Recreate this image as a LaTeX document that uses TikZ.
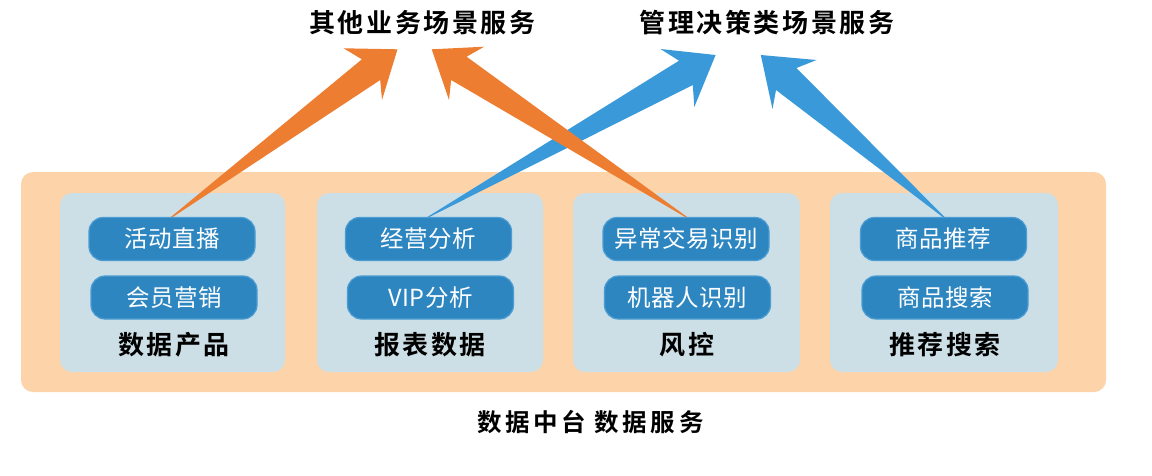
\documentclass[tikz,border=0pt]{standalone}
\usepackage{fontspec}
\newfontfamily\cjk{Noto Sans CJK SC}
\newfontfamily\cjkb{Noto Sans CJK SC Bold}
\definecolor{arrOrange}{HTML}{ED7D31}
\definecolor{arrBlue}{HTML}{3A9AD9}
\definecolor{bgPeach}{HTML}{FDD3A9}
\definecolor{panelGray}{HTML}{CCDFE6}
\definecolor{btnBlue}{HTML}{2E86C1}
\definecolor{btnEdge}{HTML}{4B9CD3}
\begin{document}
\begin{tikzpicture}[x=1pt,y=-1pt,
  outerbox/.style={fill=bgPeach, rounded corners=12pt},
  panelbox/.style={fill=panelGray, rounded corners=12pt},
  btn/.style={draw=btnEdge, line width=1.2pt, fill=btnBlue, rounded corners=14pt,
    minimum width=166pt, minimum height=43pt, inner sep=0pt, text=white,
    font=\cjk\addfontfeatures{LetterSpace=2}\fontsize{23.5}{25}\selectfont},
  panellabel/.style={inner sep=0pt, text=black,
    font=\cjkb\addfontfeatures{LetterSpace=8}\fontsize{26}{28}\selectfont},
  titlelabel/.style={inner sep=0pt, text=black,
    font=\cjkb\addfontfeatures{LetterSpace=10}\fontsize{26}{28}\selectfont},
  footlabel/.style={inner sep=0pt, text=black,
    font=\cjkb\addfontfeatures{LetterSpace=15}\fontsize{24.5}{26}\selectfont},
  orangearrow/.style={fill=arrOrange},
  bluearrow/.style={fill=arrBlue}
]
\useasboundingbox (0,0) rectangle (1152,475);

% background and panels
\fill[outerbox] (21,172) rectangle (1106,392);
\fill[panelbox] (60,193) rectangle (285,372);
\fill[panelbox] (317,193) rectangle (543,372);
\fill[panelbox] (573,193) rectangle (800,372);
\fill[panelbox] (830,193) rectangle (1058,372);

% titles
\node[titlelabel] (t1) at (422.5,23) {其他业务场景服务};
\node[titlelabel] (t2) at (767,23) {管理决策类场景服务};

% buttons
\node[btn] (b11) at (172,239) {活动直播};
\node[btn] (b12) at (174,297.5) {会员营销};
\node[btn] (b21) at (428.5,239) {经营分析};
\node[btn] (b22) at (430.5,297.5) {VIP分析};
\node[btn] (b31) at (686,239) {异常交易识别};
\node[btn] (b32) at (687.5,297.5) {机器人识别};
\node[btn] (b41) at (943.5,239) {商品推荐};
\node[btn] (b42) at (945,297.5) {商品搜索};

% panel labels
\node[panellabel] (l1) at (174,345) {数据产品};
\node[panellabel] (l2) at (430,345) {报表数据};
\node[panellabel] (l3) at (687,345) {风控};
\node[panellabel] (l4) at (945,345) {推荐搜索};

% footer
\node[footlabel] (foot) at (590.5,422) {数据中台\hspace{8pt}数据服务};

% arrow head coordinates
\coordinate (b1tip) at (715.6,55);
\coordinate (b1w1) at (660.5,49);
\coordinate (b1n1) at (679,60.7);
\coordinate (b1w2) at (694.3,107);
\coordinate (b1n2) at (692.8,85);

\coordinate (b2tip) at (760.8,55);
\coordinate (b2w1) at (816.6,60);
\coordinate (b2n1) at (796.4,68);
\coordinate (b2w2) at (772.5,109);
\coordinate (b2n2) at (776,90);

\coordinate (o1tip) at (397.5,49.3);
\coordinate (o1w1) at (343.5,48.3);
\coordinate (o1n1) at (361.9,59.3);
\coordinate (o1w2) at (382,100);
\coordinate (o1n2) at (380.2,80);

\coordinate (o2tip) at (431.7,49.3);
\coordinate (o2w1) at (484.2,46.7);
\coordinate (o2n1) at (466.6,56.7);
\coordinate (o2w2) at (449,100);
\coordinate (o2n2) at (451.1,80);

% blue arrows (below orange)
\fill[bluearrow] ([xshift=-1pt]b21.north) -- (b1n1) -- (b1w1) -- (b1tip) -- (b1w2) -- (b1n2) -- ([xshift=1pt]b21.north) -- cycle;
\fill[bluearrow] ([xshift=-1pt]b41.north) -- (b2n2) -- (b2w2) -- (b2tip) -- (b2w1) -- (b2n1) -- ([xshift=1pt]b41.north) -- cycle;

% orange arrows
\fill[orangearrow] ([xshift=-1pt]b11.north) -- (o1n1) -- (o1w1) -- (o1tip) -- (o1w2) -- (o1n2) -- ([xshift=1pt]b11.north) -- cycle;
\fill[orangearrow] ([xshift=-1pt]b31.north) -- (o2n2) -- (o2w2) -- (o2tip) -- (o2w1) -- (o2n1) -- ([xshift=1pt]b31.north) -- cycle;

\end{tikzpicture}
\end{document}
